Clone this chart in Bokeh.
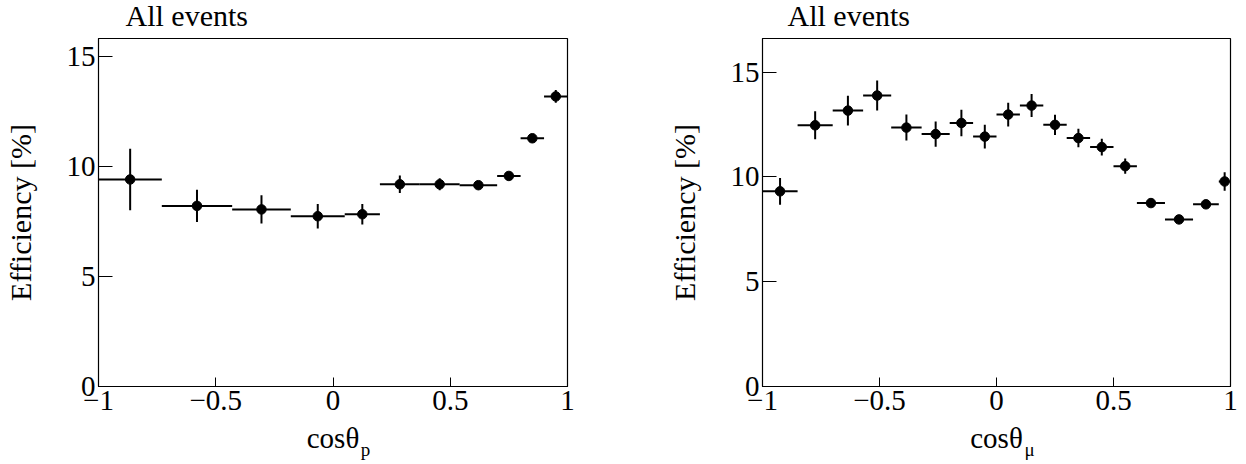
from bokeh.plotting import figure
from bokeh.layouts import row
from bokeh.models import Range1d, FixedTicker, Label, ColumnDataSource, LinearAxis
from bokeh.embed import file_html
from bokeh.resources import INLINE

# ---------------- data ----------------
title_text = "All events"
y_title = "Efficiency [%]"
x_title = "cos\u03b8"
x_ticks = [-1, -0.5, 0, 0.5, 1]
x_tick_labels = ["\u22121", "\u22120.5", "0", "0.5", "1"]
y_ticks = [0, 5, 10, 15]
y_tick_labels = ["0", "5", "10", "15"]

# proton: cos(theta_p)
p_edges = [-1.0, -0.73, -0.43, -0.18, 0.05, 0.20, 0.37, 0.54, 0.70, 0.80, 0.90, 1.0]
p_eff = [9.40, 8.20, 8.04, 7.73, 7.82, 9.18, 9.18, 9.14, 9.56, 11.27, 13.17]
p_err = [1.40, 0.73, 0.64, 0.56, 0.47, 0.40, 0.27, 0.14, 0.14, 0.12, 0.29]

# muon: cos(theta_mu)
mu_edges = [-1.0, -0.85, -0.70, -0.57, -0.45, -0.32, -0.20, -0.10, 0.0, 0.10,
            0.20, 0.30, 0.40, 0.50, 0.60, 0.72, 0.84, 0.95, 1.0]
mu_eff = [9.31, 12.46, 13.16, 13.88, 12.35, 12.04, 12.57, 11.92, 12.97, 13.40,
          12.48, 11.85, 11.42, 10.51, 8.75, 7.97, 8.69, 9.78]
mu_err = [0.64, 0.67, 0.71, 0.72, 0.62, 0.60, 0.63, 0.57, 0.57, 0.55,
          0.48, 0.44, 0.40, 0.36, 0.14, 0.12, 0.14, 0.44]

FONT = "Liberation Serif"
FRAME_H = 348


def make_panel(edges, eff, err, ymax, subscript, frame_w,
               min_left, min_right, title_dx, sub_dx):
    lo = edges[:-1]
    hi = edges[1:]
    centers = [(a + b) / 2 for a, b in zip(lo, hi)]
    src = ColumnDataSource(dict(
        x=centers, lo=lo, hi=hi, y=eff,
        ylo=[v - e for v, e in zip(eff, err)],
        yhi=[v + e for v, e in zip(eff, err)],
    ))
    p = figure(frame_width=frame_w, frame_height=FRAME_H,
               min_border_left=min_left, min_border_right=min_right,
               min_border_top=38, min_border_bottom=70,
               x_range=Range1d(-1, 1), y_range=Range1d(0, ymax),
               output_backend="svg", toolbar_location=None)
    p.background_fill_color = "white"
    p.border_fill_color = "white"
    p.outline_line_color = "black"
    p.outline_line_width = 1.2
    p.grid.visible = False

    # error bars + markers
    p.segment(x0="lo", x1="hi", y0="y", y1="y", source=src,
              line_color="black", line_width=2)
    p.segment(x0="x", x1="x", y0="ylo", y1="yhi", source=src,
              line_color="black", line_width=2)
    p.scatter(x="x", y="y", source=src, size=9.5, marker="circle",
              fill_color="black", line_color="black")

    # x axis
    xa = p.xaxis[0]
    xa.ticker = FixedTicker(ticks=x_ticks)
    xa.major_label_overrides = {float(t): s for t, s in zip(x_ticks, x_tick_labels)}
    xa.minor_tick_line_color = None
    xa.major_tick_in = 9
    xa.major_tick_out = 0
    xa.major_label_standoff = 4
    xa.major_label_text_font = FONT
    xa.major_label_text_font_size = "29px"
    xa.major_label_text_color = "black"
    xa.axis_label = x_title
    xa.axis_label_text_font = FONT
    xa.axis_label_text_font_size = "29px"
    xa.axis_label_text_font_style = "normal"
    xa.axis_label_text_color = "black"
    xa.axis_label_standoff = 9
    xa.axis_line_color = "black"
    xa.major_tick_line_color = "black"

    # subscript of the x title, drawn as a label-only axis right under it
    px_x = 2.0 / frame_w
    sub_x = round(sub_dx * px_x, 4)
    sub_axis = LinearAxis(ticker=FixedTicker(ticks=[sub_x]),
                          major_label_overrides={sub_x: subscript})
    sub_axis.axis_line_color = None
    sub_axis.major_tick_line_color = None
    sub_axis.minor_tick_line_color = None
    sub_axis.major_tick_in = 0
    sub_axis.major_tick_out = 0
    sub_axis.major_label_standoff = -18
    sub_axis.major_label_text_font = FONT
    sub_axis.major_label_text_font_size = "19px"
    sub_axis.major_label_text_color = "black"
    p.add_layout(sub_axis, "below")

    # y axis
    ya = p.yaxis[0]
    ya.ticker = FixedTicker(ticks=y_ticks)
    ya.major_label_overrides = {float(t): s for t, s in zip(y_ticks, y_tick_labels)}
    ya.minor_tick_line_color = None
    ya.major_tick_in = 14
    ya.major_tick_out = 0
    ya.major_label_standoff = 3
    ya.major_label_text_font = FONT
    ya.major_label_text_font_size = "29px"
    ya.major_label_text_color = "black"
    ya.axis_label = y_title
    ya.axis_label_text_font = FONT
    ya.axis_label_text_font_size = "30px"
    ya.axis_label_text_font_style = "normal"
    ya.axis_label_text_color = "black"
    ya.axis_label_standoff = 27
    ya.axis_line_color = "black"
    ya.major_tick_line_color = "black"

    # "All events" above the frame, left aligned
    px_y = ymax / FRAME_H
    p.add_layout(Label(x=-1 + title_dx * px_x, y=ymax + 23 * px_y,
                       text=title_text, text_font=FONT, text_font_size="30px",
                       text_color="black", text_baseline="alphabetic",
                       text_align="left"), "above")
    return p


left = make_panel(p_edges, p_eff, p_err, 15.8, "p", 469, 93, 97, 27, 32.4)
right = make_panel(mu_edges, mu_eff, mu_err, 16.6, "\u03bc", 468, 93, 8, 25, 33.1)

layout = row(left, right)
open("out.html", "w").write(file_html(layout, INLINE))
